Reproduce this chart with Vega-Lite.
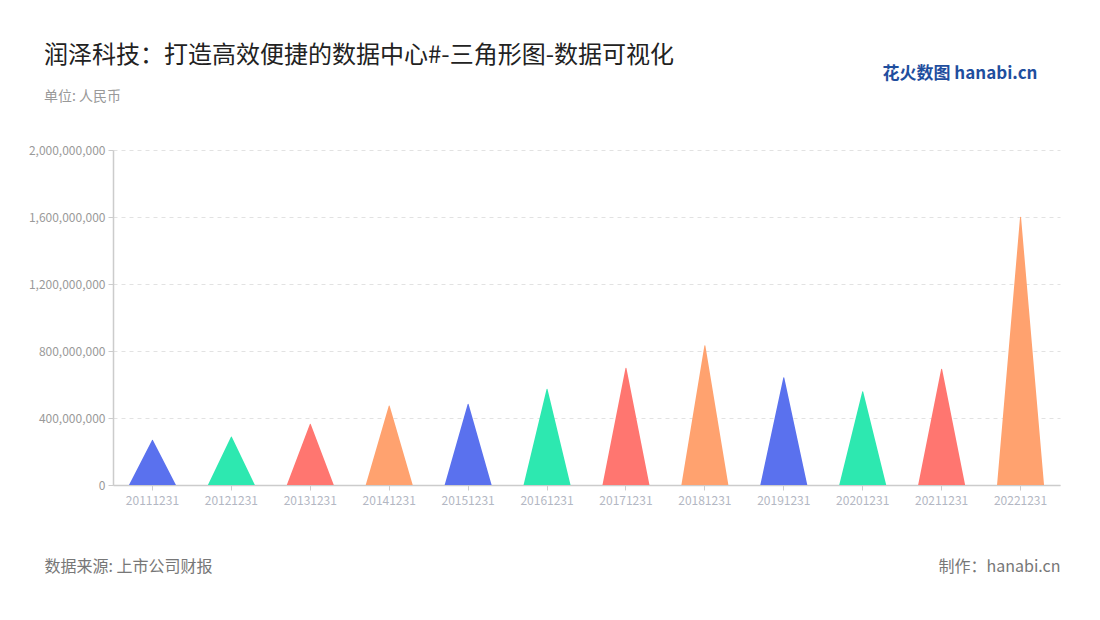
{
  "$schema": "https://vega.github.io/schema/vega-lite/v6.json",
  "width": 947,
  "height": 335,
  "autosize": {"type": "none"},
  "padding": {"left": 113, "top": 150, "right": 40, "bottom": 135},
  "background": "white",
  "config": {"view": {"stroke": null}, "font": "Noto Sans CJK SC"},
  "title": {
    "text": "润泽科技：打造高效便捷的数据中心#-三角形图-数据可视化",
    "subtitle": "单位: 人民币",
    "anchor": "start",
    "frame": "group",
    "dx": -69,
    "dy": 40,
    "offset": 0,
    "fontSize": 24,
    "font": "Noto Sans CJK SC",
    "fontWeight": "normal",
    "color": "#222222",
    "subtitleFontSize": 14,
    "subtitleColor": "#999999",
    "subtitleFont": "Noto Sans CJK SC",
    "subtitlePadding": 22
  },
  "data": {
    "values": [
      {"date": "20111231", "value": 267000000},
      {"date": "20121231", "value": 287000000},
      {"date": "20131231", "value": 362000000},
      {"date": "20141231", "value": 472000000},
      {"date": "20151231", "value": 482000000},
      {"date": "20161231", "value": 571000000},
      {"date": "20171231", "value": 697000000},
      {"date": "20181231", "value": 832000000},
      {"date": "20191231", "value": 641000000},
      {"date": "20201231", "value": 557000000},
      {"date": "20211231", "value": 691000000},
      {"date": "20221231", "value": 1598000000}
    ]
  },
  "layer": [
    {
      "transform": [
        {"stack": "value", "groupby": ["date"], "as": ["base", "top"]},
        {"fold": ["base", "top"], "as": ["key", "v"]}
      ],
      "mark": {"type": "trail", "clip": true},
      "encoding": {
        "x": {
          "field": "date", "type": "nominal", "sort": null,
          "scale": {"type": "band", "paddingInner": 0, "paddingOuter": 0},
          "axis": {
            "orient": "bottom", "labelAngle": 0, "labelColor": "#b3b7c3", "labelFontSize": 12,
            "labelPadding": 5, "tickColor": "#cccccc", "tickSize": 5, "domainColor": "#cccccc", "domainWidth": 1.5,
            "grid": false,
            "title": "数据来源: 上市公司财报", "titleAnchor": "start", "titleAlign": "left",
            "titleX": -69, "titleY": 73, "titleBaseline": "top", "titleFontSize": 16,
            "titleColor": "#777777", "titleFontWeight": "normal"
          }
        },
        "y": {
          "field": "v", "type": "quantitative",
          "scale": {"domain": [0, 2000000000], "nice": false},
          "axis": {
            "values": [0, 400000000, 800000000, 1200000000, 1600000000, 2000000000],
            "format": ",.0f", "labelColor": "#9a9a9a", "labelFontSize": 12, "labelPadding": 3,
            "tickColor": "#cccccc", "tickSize": 5, "domainColor": "#cccccc", "domainWidth": 1.5,
            "grid": true, "gridColor": "#e2e2e2", "gridDash": [4, 4], "title": null
          }
        },
        "size": {
          "field": "key", "type": "nominal",
          "scale": {"type": "ordinal", "domain": ["base", "top"], "range": [47, 0]},
          "legend": null
        },
        "color": {
          "field": "date", "type": "nominal", "sort": null,
          "scale": {"range": ["#5a71ee", "#2de8b0", "#ff7670", "#ffa26f"]},
          "legend": null
        },
        "order": {"field": "key"}
      }
    },
    {
      "mark": {"type": "point", "opacity": 0},
      "encoding": {
        "x": {
          "field": "date", "type": "nominal", "sort": null,
          "scale": {"type": "band", "paddingInner": 0, "paddingOuter": 0},
          "axis": {
            "orient": "bottom", "labels": false, "ticks": false, "domain": false, "grid": false,
            "title": "制作：hanabi.cn", "titleAnchor": "end", "titleAlign": "right",
            "titleX": 947, "titleY": 73, "titleBaseline": "top", "titleFontSize": 16,
            "titleColor": "#777777", "titleFontWeight": "normal"
          }
        },
        "y": {
          "field": "value", "type": "quantitative",
          "scale": {"domain": [0, 2000000000], "nice": false},
          "axis": {
            "orient": "right", "labels": false, "ticks": false, "domain": false, "grid": false,
            "title": "花火数图 hanabi.cn", "titleAngle": 0, "titleAlign": "right",
            "titleX": -23, "titleY": -77, "titleBaseline": "middle", "titleFontSize": 17,
            "titleFontWeight": "bold", "titleColor": "#1f4e9e"
          }
        }
      }
    }
  ],
  "resolve": {"axis": {"x": "independent", "y": "independent"}}
}
